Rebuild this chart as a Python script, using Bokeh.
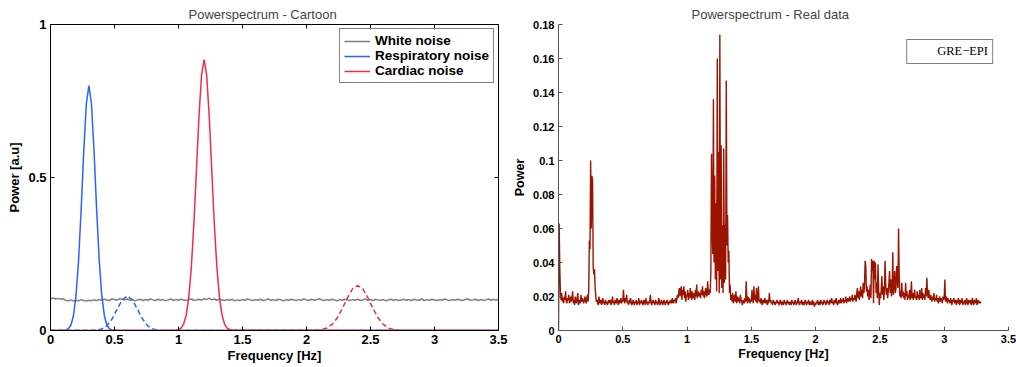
import numpy as np
from bokeh.plotting import figure
from bokeh.layouts import row
from bokeh.models import (FixedTicker, PrintfTickFormatter, Legend, LegendItem, Range1d)
from bokeh.embed import file_html
from bokeh.resources import INLINE

# ---------------- data: cartoon panel ----------------
freq_ticks = [0, 0.5, 1, 1.5, 2, 2.5, 3, 3.5]
cartoon_y_ticks = [0, 0.5, 1]
real_y_ticks = [0, 0.02, 0.04, 0.06, 0.08, 0.1, 0.12, 0.14, 0.16, 0.18]

white_step = 0.02  # Hz between white-noise samples
white_noise_milli = [
    104, 106, 103, 105, 102, 104, 98, 97, 100, 96, 99, 97, 101, 98, 96, 99, 97, 100, 98, 101,
    99, 102, 100, 98, 103, 101, 99, 104, 102, 100, 103, 99, 101, 97, 100, 102, 98, 101, 99, 103,
    100, 98, 102, 99, 101, 97, 100, 103, 98, 101, 99, 102, 100, 98, 101, 103, 99, 100, 102, 99,
    104, 101, 106, 100, 103, 99, 102, 100, 98, 101, 99, 102, 97, 100, 98, 101, 99, 103, 100, 98,
    101, 99, 102, 98, 100, 103, 99, 101, 98, 102, 100, 97, 101, 99, 102, 100, 98, 101, 99, 103,
    100, 98, 102, 99, 101, 104, 100, 98, 101, 99, 102, 100, 97, 101, 99, 102, 100, 98, 101, 99,
    102, 98, 100, 103, 99, 101, 98, 102, 100, 99, 101, 97, 100, 102, 99, 101, 98, 100, 102, 99,
    101, 98, 102, 100, 99, 103, 98, 101, 99, 102, 100, 98, 101, 99, 103, 100, 98, 101, 99, 102,
    100, 98, 101, 103, 99, 100, 102, 98, 101, 99, 100, 103, 99, 101, 100, 102,
]

resp_freq = [0, 0.10, 0.12, 0.14, 0.16, 0.18, 0.20, 0.22, 0.24, 0.26, 0.28, 0.30,
             0.32, 0.34, 0.36, 0.38, 0.40, 0.42, 0.44, 0.46, 0.48, 0.50, 3.5]
resp_power = [0, 0, 0.0016, 0.006, 0.018, 0.050, 0.117, 0.234, 0.40, 0.588, 0.741, 0.80,
              0.741, 0.588, 0.40, 0.234, 0.117, 0.050, 0.018, 0.006, 0.0016, 0, 0]

card_freq = [0, 0.98, 1.00, 1.02, 1.04, 1.06, 1.08, 1.10, 1.12, 1.14, 1.16, 1.18, 1.20,
             1.22, 1.24, 1.26, 1.28, 1.30, 1.32, 1.34, 1.36, 1.38, 1.40, 1.42, 3.5]
card_power = [0, 0.001, 0.003, 0.008, 0.021, 0.050, 0.108, 0.205, 0.347, 0.523, 0.700, 0.835, 0.885,
              0.835, 0.700, 0.523, 0.347, 0.205, 0.108, 0.050, 0.021, 0.008, 0.003, 0.001, 0]

resp_harm_freq = [0, 0.32, 0.36, 0.40, 0.44, 0.48, 0.52, 0.56, 0.60, 0.64, 0.68, 0.72,
                  0.76, 0.80, 0.84, 0.88, 3.5]
resp_harm_power = [0, 0, 0.001, 0.005, 0.015, 0.037, 0.069, 0.100, 0.113, 0.100, 0.069, 0.037,
                   0.015, 0.005, 0.001, 0, 0]

card_harm_freq = [0, 2.04, 2.08, 2.12, 2.16, 2.20, 2.24, 2.28, 2.32, 2.36, 2.40, 2.44, 2.48,
                  2.52, 2.56, 2.60, 2.64, 2.68, 2.72, 2.76, 3.5]
card_harm_power = [0, 0, 0.0006, 0.003, 0.008, 0.020, 0.041, 0.072, 0.107, 0.136, 0.147, 0.136,
                   0.107, 0.072, 0.041, 0.020, 0.008, 0.003, 0.0006, 0, 0]

# ---------------- data: real data panel ----------------
real_step = 0.005  # Hz between samples
gre_epi_milli = [
    0, 63, 37, 21, 18, 22, 17, 19, 16, 20, 18, 23, 17, 16, 19, 18, 21, 16, 17, 20,
    17, 19, 23, 16, 18, 15, 20, 17, 16, 19, 22, 15, 17, 18, 16, 21, 17, 19, 18, 16,
    17, 20, 18, 16, 19, 21, 17, 23, 53, 48, 100, 60, 91, 88, 37, 33, 36, 25, 20, 17,
    18, 16, 15, 20, 17, 16, 18, 15, 17, 19, 16, 17, 15, 18, 16, 17, 15, 16, 18, 17,
    16, 18, 15, 17, 20, 16, 17, 15, 18, 17, 16, 19, 17, 15, 18, 16, 17, 19, 16, 18,
    17, 24, 18, 16, 19, 17, 21, 16, 17, 15, 18, 16, 19, 17, 15, 16, 18, 17, 15, 17,
    16, 18, 15, 17, 16, 19, 15, 17, 16, 18, 17, 15, 16, 18, 17, 15, 19, 16, 17, 15,
    17, 16, 18, 21, 16, 15, 17, 18, 16, 17, 15, 18, 16, 17, 15, 16, 19, 17, 15, 16,
    18, 17, 15, 16, 18, 17, 15, 16, 17, 18, 16, 15, 17, 16, 18, 17, 16, 19, 17, 16,
    18, 17, 19, 16, 18, 21, 19, 22, 25, 20, 23, 26, 18, 24, 21, 26, 19, 23, 17, 21,
    20, 24, 18, 22, 19, 25, 21, 18, 23, 20, 19, 22, 18, 24, 20, 27, 19, 21, 23, 20,
    22, 19, 24, 21, 26, 20, 23, 19, 22, 25, 21, 20, 29, 22, 21, 24, 22, 35, 104, 60,
    45, 136, 40, 91, 30, 75, 23, 160, 35, 105, 22, 174, 30, 109, 25, 62, 22, 107, 28, 62,
    30, 147, 50, 68, 40, 47, 22, 27, 18, 21, 17, 22, 16, 19, 21, 17, 23, 16, 18, 20,
    17, 19, 16, 21, 18, 17, 15, 18, 17, 16, 19, 17, 29, 18, 16, 20, 17, 19, 16, 18,
    17, 24, 19, 16, 26, 18, 21, 17, 25, 16, 19, 26, 17, 18, 16, 19, 17, 15, 18, 16,
    17, 19, 16, 18, 17, 15, 18, 16, 22, 17, 18, 16, 17, 15, 18, 17, 16, 15, 17, 16,
    18, 16, 17, 15, 16, 18, 17, 15, 17, 16, 15, 18, 16, 17, 15, 16, 18, 16, 17, 15,
    16, 17, 15, 18, 16, 17, 15, 16, 18, 17, 15, 16, 17, 19, 16, 15, 17, 16, 18, 15,
    17, 16, 15, 17, 18, 16, 15, 17, 16, 18, 15, 16, 17, 15, 16, 18, 15, 17, 14, 16,
    15, 17, 16, 18, 15, 16, 17, 15, 18, 16, 17, 15, 16, 18, 17, 16, 15, 17, 18, 16,
    17, 15, 18, 16, 17, 19, 16, 17, 15, 18, 16, 17, 19, 16, 15, 17, 18, 16, 17, 19,
    16, 18, 17, 19, 16, 18, 17, 20, 16, 18, 19, 17, 18, 20, 17, 19, 18, 21, 17, 19,
    18, 21, 19, 17, 22, 25, 19, 23, 18, 21, 26, 20, 24, 19, 28, 22, 26, 41, 38, 23,
    26, 20, 24, 18, 22, 27, 19, 42, 35, 41, 16, 41, 30, 40, 22, 28, 19, 39, 24, 15,
    22, 19, 24, 32, 21, 26, 18, 23, 41, 27, 21, 25, 19, 23, 28, 35, 22, 30, 20, 24,
    46, 21, 26, 35, 22, 25, 38, 30, 25, 60, 32, 20, 23, 19, 28, 20, 23, 19, 22, 18,
    28, 20, 23, 18, 21, 19, 24, 18, 20, 29, 19, 22, 18, 21, 24, 19, 20, 18, 23, 19,
    21, 18, 24, 19, 20, 25, 18, 22, 19, 21, 18, 25, 20, 31, 22, 19, 24, 20, 18, 21,
    19, 17, 20, 18, 22, 17, 19, 18, 21, 17, 19, 16, 18, 20, 17, 19, 18, 16, 20, 18,
    19, 30, 17, 20, 18, 16, 19, 17, 18, 16, 19, 17, 15, 18, 17, 19, 16, 18, 17, 15,
    18, 16, 19, 17, 15, 18, 16, 17, 19, 15, 17, 16, 18, 15, 17, 19, 16, 15, 18, 17,
    16, 18, 15, 17, 19, 16, 15, 18, 17, 16, 19, 15, 17, 18, 16, 17, 16, 17,
]

white_freq = np.arange(len(white_noise_milli)) * white_step
white_power = np.array(white_noise_milli) / 1000.0
real_freq = np.arange(len(gre_epi_milli)) * real_step
real_power = np.array(gre_epi_milli) / 1000.0

FONT = "Liberation Sans"
X_MIN, X_MAX = 0, 3.5

# ---------------- left panel ----------------
p1 = figure(width=508, height=367, x_range=Range1d(X_MIN, X_MAX), y_range=Range1d(0, 1),
            output_backend="svg", toolbar_location=None,
            min_border_left=50, min_border_right=10, min_border_top=23, min_border_bottom=37,
            title="Powerspectrum - Cartoon")
p1.title.align = "left"
p1.title.offset = 138
p1.title.text_font = FONT
p1.title.text_font_size = "13px"
p1.title.text_font_style = "normal"
p1.title.standoff = 6
p1.xgrid.visible = False
p1.ygrid.visible = False
p1.outline_line_color = "black"
p1.outline_line_width = 1
p1.background_fill_color = "white"
p1.border_fill_color = "white"

r_white = p1.line(white_freq, white_power, color="#7f7f7f", line_width=1.5)
r_resp = p1.line(resp_freq, resp_power, color="#2a64ff", line_width=1.5)
r_card = p1.line(card_freq, card_power, color="#f52a45", line_width=1.5)
p1.line(resp_harm_freq, resp_harm_power, color="#2a64ff", line_width=1.5, line_dash="5 3")
p1.line(card_harm_freq, card_harm_power, color="#f52a45", line_width=1.5, line_dash="5 3")

# inward tick marks on the top and right edges of the box (MATLAB "box on")
p1.ray(x=freq_ticks, y=[p1.y_range.end] * len(freq_ticks), length=4, length_units="screen",
       angle=-np.pi / 2, color="black", line_width=1)
p1.ray(x=[X_MAX] * len(cartoon_y_ticks), y=cartoon_y_ticks, length=4, length_units="screen",
       angle=np.pi, color="black", line_width=1)


def style_axis(ax, ticks, size, color="black"):
    ax.ticker = FixedTicker(ticks=ticks)
    ax.formatter = PrintfTickFormatter(format="%g")
    ax.major_tick_in = 4
    ax.major_tick_out = 0
    ax.minor_tick_line_color = None
    ax.axis_line_color = color
    ax.major_tick_line_color = color
    ax.major_label_text_font = FONT
    ax.major_label_text_font_style = "bold"
    ax.major_label_text_color = "black"
    ax.major_label_text_font_size = size
    ax.major_label_standoff = 4


style_axis(p1.xaxis[0], freq_ticks, "13px")
style_axis(p1.yaxis[0], cartoon_y_ticks, "13px")
p1.xaxis[0].axis_label = "Frequency [Hz]"
p1.yaxis[0].axis_label = "Power [a.u]"
for ax in (p1.xaxis[0], p1.yaxis[0]):
    ax.axis_label_text_font = FONT
    ax.axis_label_text_font_size = "13px"
    ax.axis_label_text_font_style = "bold"
    ax.axis_label_text_color = "black"
p1.xaxis[0].axis_label_standoff = 1
p1.yaxis[0].axis_label_standoff = 3

leg1 = Legend(items=[LegendItem(label="White noise", renderers=[r_white]),
                     LegendItem(label="Respiratory noise", renderers=[r_resp]),
                     LegendItem(label="Cardiac noise", renderers=[r_card])],
              location="top_right", margin=4, padding=4, spacing=0,
              glyph_width=26, glyph_height=14, label_height=14, label_standoff=5,
              label_text_font=FONT, label_text_font_size="13.5px",
              label_text_font_style="bold", label_text_color="black",
              border_line_color="black", border_line_width=1.5,
              background_fill_color="white", background_fill_alpha=1)
p1.add_layout(leg1)

# ---------------- right panel ----------------
p2 = figure(width=508, height=367, x_range=Range1d(X_MIN, X_MAX), y_range=Range1d(0, 0.18),
            output_backend="svg", toolbar_location=None,
            min_border_left=50, min_border_right=8, min_border_top=24, min_border_bottom=34,
            title="Powerspectrum - Real data")
p2.title.align = "left"
p2.title.offset = 133
p2.title.text_font = FONT
p2.title.text_font_size = "13px"
p2.title.text_font_style = "normal"
p2.title.standoff = 6
p2.xgrid.visible = False
p2.ygrid.visible = False
p2.outline_line_color = None
p2.background_fill_color = "white"
p2.border_fill_color = "white"

p2.line(real_freq, real_power, color="#9b1400", line_width=1.4)
r_leg = p2.line(x=[], y=[], color="#c8403c", line_width=1)

style_axis(p2.xaxis[0], freq_ticks, "11px", color="#555555")
style_axis(p2.yaxis[0], real_y_ticks, "11px", color="#555555")
p2.xaxis[0].axis_label = "Frequency [Hz]"
p2.yaxis[0].axis_label = "Power"
for ax in (p2.xaxis[0], p2.yaxis[0]):
    ax.axis_label_text_font = FONT
    ax.axis_label_text_font_size = "12.5px"
    ax.axis_label_text_font_style = "bold"
    ax.axis_label_text_color = "black"
p2.xaxis[0].axis_label_standoff = 1
p2.yaxis[0].axis_label_standoff = 3

leg2 = Legend(items=[LegendItem(label="GRE\u2212EPI", renderers=[r_leg])],
              location="top_right", margin=15, padding=4, spacing=0,
              glyph_width=23, glyph_height=14, label_height=14, label_standoff=3,
              label_text_font="Liberation Serif", label_text_font_size="12.5px",
              label_text_color="black",
              border_line_color="black", border_line_width=1.8,
              background_fill_color="white", background_fill_alpha=1)
p2.add_layout(leg2)

layout = row(p1, p2)
open("out.html", "w").write(file_html(layout, INLINE))
